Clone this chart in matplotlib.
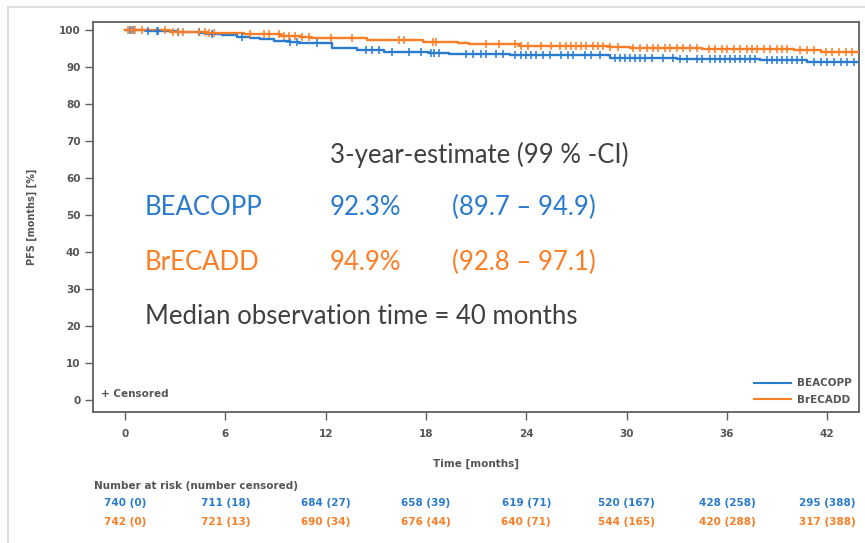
import matplotlib
matplotlib.use("Agg")
import matplotlib.pyplot as plt
from matplotlib.lines import Line2D

# Kaplan-Meier step data (time in months, PFS in %)
beacopp_t = [0, 1.3, 3.1, 4.5, 4.9, 5.8, 6.7, 7.5, 8.1, 8.9, 9.9, 10.4, 12.4,
             13.9, 15.5, 18.2, 19.4, 23.0, 29.0, 33.0, 38.0, 40.8, 44.0]
beacopp_s = [100, 99.7, 99.5, 99.2, 98.9, 98.6, 98.2, 97.8, 97.5, 97.0, 96.7,
             96.4, 95.3, 94.6, 94.2, 93.7, 93.5, 93.2, 92.6, 92.3, 92.0, 91.5, 91.5]
brecadd_t = [0, 2.7, 4.9, 7.1, 9.3, 10.5, 11.1, 14.5, 17.8, 19.9, 20.6, 23.6,
             29.0, 30.2, 34.5, 40.0, 41.6, 42.8, 44.0]
brecadd_s = [100, 99.6, 99.3, 98.9, 98.5, 98.2, 98.0, 97.3, 96.9, 96.4, 96.2,
             95.8, 95.5, 95.1, 94.9, 94.6, 94.2, 94.0, 94.0]

# Censoring times (months)
beacopp_cens = [0.3, 0.5, 1.4, 1.9, 2.0, 3.2, 4.4, 5.2, 7.0, 9.9, 10.3, 11.5,
                14.4, 14.8, 15.2, 16.0, 17.0, 17.7, 18.3, 18.5, 18.8, 20.4,
                20.8, 21.3, 21.6, 22.2, 22.6, 23.3, 23.7, 24.0, 24.3, 24.6,
                25.0, 25.4, 26.1, 26.5, 26.8, 27.5, 27.9, 28.4, 29.3, 29.6,
                29.9, 30.2, 30.5, 30.8, 31.1, 31.5, 32.2, 32.8, 33.2, 33.6,
                34.2, 34.5, 35.0, 35.3, 35.6, 35.9, 36.2, 36.5, 36.8, 37.1,
                37.4, 37.7, 38.4, 38.7, 39.0, 39.3, 39.6, 39.9, 40.2, 40.5,
                41.2, 41.6, 42.0, 42.4, 42.8, 43.2, 43.6]
brecadd_cens = [0.2, 0.4, 0.6, 1.0, 2.4, 2.9, 3.2, 3.5, 4.4, 4.8, 5.0, 5.3,
                7.5, 8.3, 8.6, 9.2, 9.5, 9.8, 10.2, 10.6, 11.0, 12.3, 13.6,
                16.4, 16.7, 18.4, 18.6, 21.6, 22.4, 23.3, 23.7, 24.1, 24.9,
                25.5, 26.0, 26.4, 26.7, 27.0, 27.3, 27.6, 28.0, 28.3, 28.6,
                29.0, 29.5, 30.4, 30.8, 31.2, 31.6, 31.9, 32.3, 32.6, 33.0,
                33.4, 33.8, 34.2, 34.9, 35.3, 35.7, 36.0, 36.4, 36.8, 37.2,
                37.5, 37.8, 38.2, 38.6, 39.0, 39.3, 39.6, 40.4, 40.8, 41.2,
                41.9, 42.3, 42.7, 43.1, 43.5]

xticks = [0, 6, 12, 18, 24, 30, 36, 42]
yticks = [0, 10, 20, 30, 40, 50, 60, 70, 80, 90, 100]
risk_beacopp = ["740 (0)", "711 (18)", "684 (27)", "658 (39)",
                "619 (71)", "520 (167)", "428 (258)", "295 (388)"]
risk_brecadd = ["742 (0)", "721 (13)", "690 (34)", "676 (44)",
                "640 (71)", "544 (165)", "420 (288)", "317 (388)"]

BLUE = "#2a7bcd"
ORANGE = "#fb7d25"
GRAY = "#555555"
DARK = "#404040"


def surv_at(times, surv, x):
    val = surv[0]
    for t, s in zip(times, surv):
        if t <= x:
            val = s
    return val


fig = plt.figure(figsize=(8.65, 5.43), dpi=100)
W, H = 865, 543
ax = fig.add_axes([93 / W, 1 - 412 / H, (859 - 93) / W, (412 - 22) / H])

for t, s, c, cens in [(beacopp_t, beacopp_s, BLUE, beacopp_cens),
                      (brecadd_t, brecadd_s, ORANGE, brecadd_cens)]:
    ax.step(t, s, where="post", color=c, lw=1.7, zorder=3)
    ax.plot(cens, [surv_at(t, s, x) for x in cens], ls="none", marker="+",
            ms=5.5, mew=1.1, color=c, zorder=4)

ax.set_xlim(-1.91, 43.9)
ax.set_ylim(-3.2, 102.2)
ax.set_xticks(xticks)
ax.set_yticks(yticks)
for sp in ax.spines.values():
    sp.set_color("#606060")
    sp.set_linewidth(1.3)
ax.tick_params(axis="both", direction="out", length=5.5, width=1.0,
               color="#606060", labelcolor=GRAY, labelsize=7.5)
ax.tick_params(axis="y", pad=3.5)
ax.tick_params(axis="x", pad=7)
for lab in ax.get_xticklabels() + ax.get_yticklabels():
    lab.set_fontweight("bold")

ax.set_xlabel("Time [months]", fontsize=7.5, fontweight="bold", color=GRAY,
              labelpad=14)
ax.set_ylabel("PFS [months] [%]", fontsize=7, fontweight="bold", color=GRAY,
              labelpad=16)

# Estimate annotations inside the plot
big = dict(fontsize=18.5, family="Lato", va="center")
ax.text(12.26, 66.4, "3-year-estimate (99 % -CI)", color=DARK, **big)
ax.text(1.2, 52.2, "BEACOPP", color=BLUE, **big)
ax.text(12.26, 52.2, "92.3%", color=BLUE, **big)
ax.text(19.56, 52.2, "(89.7 \u2013 94.9)", color=BLUE, **big)
ax.text(1.2, 37.1, "BrECADD", color=ORANGE, **big)
ax.text(12.26, 37.1, "94.9%", color=ORANGE, **big)
ax.text(19.56, 37.1, "(92.8 \u2013 97.1)", color=ORANGE, **big)
ax.text(1.2, 22.6, "Median observation time = 40 months", color=DARK, **big)

ax.text(0.01, 0.045, "+ Censored", transform=ax.transAxes, fontsize=7.5,
        fontweight="bold", color=GRAY, va="center")

handles = [Line2D([], [], color=BLUE, lw=1.5), Line2D([], [], color=ORANGE, lw=1.5)]
leg = ax.legend(handles, ["BEACOPP", "BrECADD"], loc="lower right",
                frameon=False, handlelength=3.5, fontsize=7.5,
                borderaxespad=0.3, labelspacing=0.6, handletextpad=0.6)
for txt in leg.get_texts():
    txt.set_color(GRAY)
    txt.set_fontweight("bold")

# Number-at-risk table below the axis
fig.text(94 / W, 1 - 486 / H, "Number at risk (number censored)", fontsize=7.5,
         fontweight="bold", color=GRAY, va="center")
for x, b, o in zip(xticks, risk_beacopp, risk_brecadd):
    xf = fig.transFigure.inverted().transform(ax.transData.transform((x, 0)))[0]
    fig.text(xf, 1 - 503 / H, b, fontsize=7.5, fontweight="bold", color=BLUE,
             ha="center", va="center")
    fig.text(xf, 1 - 522 / H, o, fontsize=7.5, fontweight="bold", color=ORANGE,
             ha="center", va="center")

# Light outer frame
fig.add_artist(Line2D([8 / W, 8 / W], [0, 1 - 7 / H], color="#d8d8d8", lw=1.2,
                      transform=fig.transFigure))
fig.add_artist(Line2D([8 / W, 1], [1 - 7 / H, 1 - 7 / H], color="#d8d8d8", lw=1.2,
                      transform=fig.transFigure))

fig.savefig("out.png", dpi=100)
